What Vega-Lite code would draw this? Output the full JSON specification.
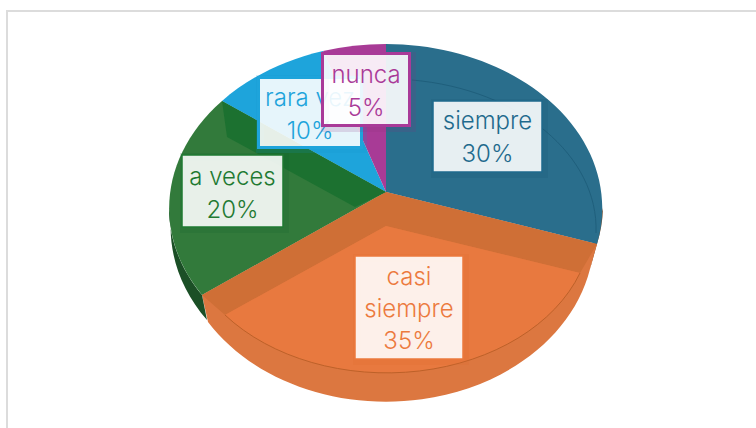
{"$schema":"https://vega.github.io/schema/vega-lite/v6.json","width":756,"height":428,"padding":0,"autosize":{"type":"none"},"background":"white","config":{"view":{"stroke":null}},
"data":{"values":[{"category":"siempre","pct":30},{"category":"casi siempre","pct":35},{"category":"a veces","pct":20},{"category":"rara vez","pct":10},{"category":"nunca","pct":5}]},
"transform":[{"calculate":"replace(datum.category,'casi ','casi|')+'|'+datum.pct+'%'","as":"label"}],
"encoding":{"x":{"datum":0,"type":"quantitative","scale":{"domain":[-386,370],"nice":false,"zero":false},"axis":null},"y":{"datum":0,"type":"quantitative","scale":{"domain":[236,-192],"nice":false,"zero":false},"axis":null}},
"resolve":{"scale":{"shape":"independent","color":"independent","stroke":"independent"}},
"layer":[
{"data":{"values":[{"frame":1}]},"transform":[],"mark":{"type":"point","shape":"M-379,300 V-181 H500","filled":false,"stroke":"#dcdcdc","strokeWidth":2,"size":4,"opacity":1}},
{"transform":[{"filter":"datum.category=='a veces'||datum.category=='siempre'||datum.category=='casi siempre'"}],"mark":{"type":"point","filled":true,"size":4,"opacity":1},"encoding":{
"shape":{"field":"category","type":"nominal","legend":null,"scale":{"domain":["siempre","casi siempre","a veces"],"range":["M217,16 A217,164 0 0 1 211,52 L204,77 A208,165 0 0 0 208,45 Z","M0,0 L211,52 L204,77 A208,165 0 0 1 -178,130 L-184,103 Z","M-217,16 A217,164 0 0 0 -184,103 L-179,128 A212,165 0 0 1 -215,26 Z"]}},
"color":{"field":"category","type":"nominal","legend":null,"scale":{"domain":["siempre","casi siempre","a veces"],"range":["#7a5232","#dc7740","#1b4f26"]}}}},
{"mark":{"type":"point","filled":true,"size":4,"opacity":1},"transform":[{"filter":"datum.category!='casi siempre'"}],"encoding":{
"shape":{"field":"category","type":"nominal","legend":null,"scale":{"domain":["siempre","a veces","rara vez","nunca"],"range":["M0,0 L0,-148 A217,164 0 0 1 211,52 Z","M0,0 L-184,103 A217,164 0 0 1 -164,-91 Z","M0,0 L-164,-91 A217,164 0 0 1 -63,-141 Z","M0,0 L-63,-141 A217,164 0 0 1 0,-148 Z"]}},
"color":{"field":"category","type":"nominal","legend":null,"scale":{"domain":["siempre","a veces","rara vez","nunca"],"range":["#2a6e8c","#327a3b","#1ea4db","#a83b96"]}}}},
{"mark":{"type":"point","filled":true,"size":4,"opacity":1},"transform":[{"filter":"datum.category=='a veces'||datum.category=='casi siempre'"}],"encoding":{
"shape":{"field":"category","type":"nominal","legend":null,"scale":{"domain":["casi siempre","a veces"],"range":["M0,0 L211,52 L194,81 L0,34 L-161,123 L-184,103 Z","M-164,-91 L0,0 L-31,15 L-159,-55 Z"]}},
"color":{"field":"category","type":"nominal","legend":null,"scale":{"domain":["casi siempre","a veces"],"range":["#cf6f36","#1c7130"]}}}},
{"transform":[{"filter":"datum.category=='casi siempre'"}],"mark":{"type":"point","shape":"M0,34 L194,81 A205,150 0 0 1 -161,123 Z","filled":true,"fill":"#e8793f","size":4,"opacity":1}},
{"transform":[{"filter":"datum.category=='casi siempre'"}],"mark":{"type":"point","shape":"M194,81 A205,150 0 0 1 -161,123","filled":false,"stroke":"#bd6129","strokeWidth":1,"size":4,"opacity":1}},
{"transform":[{"filter":"datum.category=='siempre'"}],"mark":{"type":"point","shape":"M26,-112 A209,150 0 0 1 210,41","filled":false,"stroke":"#1f5f7c","strokeWidth":1,"size":4,"opacity":1}},
{"transform":[{"filter":"datum.category!='nunca'"}],"mark":{"type":"point","filled":false,"size":4,"opacity":0.16,"strokeWidth":8},"encoding":{
"shape":{"field":"category","type":"nominal","legend":null,"scale":{"domain":["siempre","casi siempre","a veces","rara vez"],"range":["M49,-89 H158 V-18 H49 Z","M-29,66 H79 V169 H-29 Z","M-202,-35 H-101 V37 H-202 Z","M-126,-113 H-23 V-43 H-126 Z"]}},
"color":{"field":"category","type":"nominal","legend":null,"scale":{"domain":["siempre","casi siempre","a veces","rara vez"],"range":["#15506e","#e06a2c","#12602a","#1593cb"]}}}},
{"transform":[{"filter":"datum.category=='siempre'||datum.category=='casi siempre'||datum.category=='a veces'"}],"mark":{"type":"point","filled":true,"fill":"white","fillOpacity":0.89,"strokeWidth":1.5,"size":4,"opacity":1},"encoding":{
"shape":{"field":"category","type":"nominal","legend":null,"scale":{"domain":["siempre","casi siempre","a veces"],"range":["M47,-91 H156 V-20 H47 Z","M-31,64 H77 V167 H-31 Z","M-204,-37 H-103 V35 H-204 Z"]}},
"stroke":{"field":"category","type":"nominal","legend":null,"scale":{"domain":["siempre","casi siempre","a veces"],"range":["#1f6a8d","#ec7a3e","#1f7a32"]}}}},
{"transform":[{"filter":"datum.category=='rara vez'"}],"mark":{"type":"point","shape":"M-127.5,-114.5 H-24.5 V-44.5 H-127.5 Z","filled":true,"fill":"white","fillOpacity":0.89,"stroke":"#1ea4db","strokeWidth":3,"size":4,"opacity":1}},
{"transform":[{"filter":"datum.category=='siempre'"}],"mark":{"type":"text","font":"Inter","fontSize":24,"fontWeight":300,"lineBreak":"|","lineHeight":32.5,"align":"center","baseline":"middle","dx":101.5,"dy":-70,"fill":"#1f6a8d"},"encoding":{"text":{"field":"label"}}},
{"transform":[{"filter":"datum.category=='casi siempre'"}],"mark":{"type":"text","font":"Inter","fontSize":24,"fontWeight":300,"lineBreak":"|","lineHeight":32,"align":"center","baseline":"middle","dx":23,"dy":85.5,"fill":"#ec7a3e"},"encoding":{"text":{"field":"label"}}},
{"transform":[{"filter":"datum.category=='a veces'"}],"mark":{"type":"text","font":"Inter","fontSize":24,"fontWeight":300,"lineBreak":"|","lineHeight":33,"align":"center","baseline":"middle","dx":-153.5,"dy":-14,"fill":"#1f7a32"},"encoding":{"text":{"field":"label"}}},
{"transform":[{"filter":"datum.category=='rara vez'"}],"mark":{"type":"text","font":"Inter","fontSize":24,"fontWeight":300,"lineBreak":"|","lineHeight":32.5,"align":"center","baseline":"middle","dx":-76,"dy":-93,"fill":"#1ea4db"},"encoding":{"text":{"field":"label"}}},
{"transform":[{"filter":"datum.category=='nunca'"}],"mark":{"type":"point","shape":"M-61,-136 H26 V-64 H-61 Z","filled":false,"stroke":"#8a2f7c","strokeOpacity":1,"strokeWidth":8,"size":4,"opacity":0.16}},
{"transform":[{"filter":"datum.category=='nunca'"}],"mark":{"type":"point","shape":"M-63.5,-138.5 H23.5 V-66.5 H-63.5 Z","filled":true,"fill":"white","fillOpacity":0.9,"stroke":"#a93a98","strokeWidth":3,"size":4,"opacity":1}},
{"transform":[{"filter":"datum.category=='nunca'"}],"mark":{"type":"text","font":"Inter","fontSize":24,"fontWeight":300,"lineBreak":"|","lineHeight":33,"align":"center","baseline":"middle","dx":-20,"dy":-116.5,"fill":"#a93a98"},"encoding":{"text":{"field":"label"}}}
]}
